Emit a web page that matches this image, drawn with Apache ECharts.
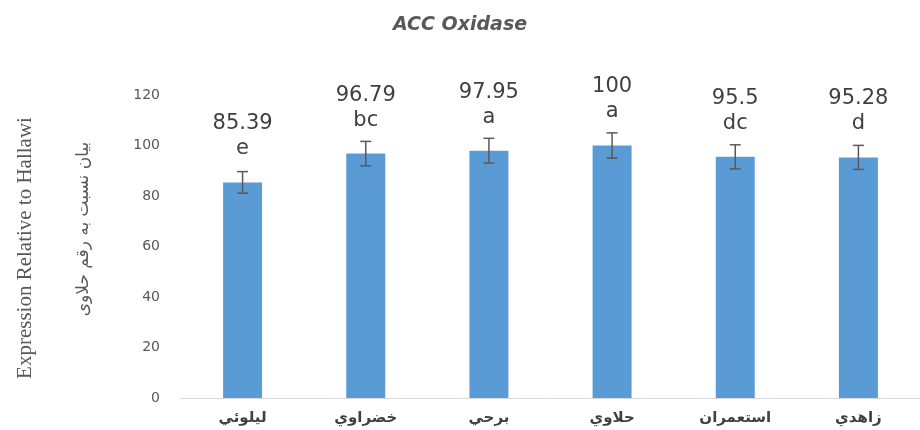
<!DOCTYPE html>
<html>
<head>
<meta charset="utf-8">
<script src="https://cdn.jsdelivr.net/npm/echarts@6/dist/echarts.min.js"></script>
<style>
  html, body { margin: 0; padding: 0; background: #fff; }
  #chart { width: 920px; height: 430px; }
</style>
</head>
<body>
<div id="chart"></div>
<script>
const cultivars = ['ليلوئي', 'خضراوي', 'برحي', 'حلاوي', 'استعمران', 'زاهدي'];
const expression = [85.39, 96.79, 97.95, 100, 95.5, 95.28];
const errors = [4.27, 4.84, 4.9, 5.0, 4.78, 4.76];
const letters = ['e', 'bc', 'a', 'a', 'dc', 'd'];
const yTicks = [0, 20, 40, 60, 80, 100, 120];

const chart = echarts.init(document.getElementById('chart'));

const errorData = expression.map((v, i) => [i, v - errors[i], v + errors[i]]);

const option = {
  animation: false,
  title: {
    text: 'ACC Oxidase',
    left: 'center',
    top: 11,
    textStyle: {
      fontFamily: 'DejaVu Sans',
      fontStyle: 'italic',
      fontWeight: 'bold',
      fontSize: 19,
      color: '#595959'
    }
  },
  graphic: [
    {
      type: 'text',
      x: 25,
      y: 248,
      rotation: Math.PI / 2,
      style: {
        text: 'Expression Relative to Hallawi',
        fontFamily: 'Liberation Serif',
        fontSize: 21,
        fill: '#595959',
        align: 'center',
        verticalAlign: 'middle'
      }
    },
    {
      type: 'text',
      x: 84,
      y: 229,
      rotation: Math.PI / 2,
      style: {
        text: 'بیان نسبت به رقم حلاوی',
        fontFamily: 'DejaVu Sans',
        fontSize: 17,
        fill: '#595959',
        align: 'center',
        verticalAlign: 'middle'
      }
    }
  ],
  grid: {
    left: 181,
    width: 752,
    top: 95,
    bottom: 32
  },
  xAxis: {
    type: 'category',
    data: cultivars,
    axisLine: { lineStyle: { color: '#d9d9d9', width: 1 } },
    axisTick: { show: false },
    axisLabel: {
      margin: 13,
      fontFamily: 'DejaVu Sans',
      fontWeight: 'bold',
      fontSize: 15,
      color: '#404040'
    }
  },
  yAxis: {
    type: 'value',
    min: yTicks[0],
    max: yTicks[yTicks.length - 1],
    interval: 20,
    splitLine: { show: false },
    axisLine: { show: false },
    axisTick: { show: false },
    axisLabel: {
      margin: 21,
      fontFamily: 'DejaVu Sans',
      fontSize: 14,
      color: '#595959'
    }
  },
  series: [
    {
      type: 'bar',
      data: expression,
      barWidth: 39,
      itemStyle: { color: '#5b9bd5' },
      label: {
        show: true,
        position: 'top',
        distance: 21,
        formatter: (p) => '{v|' + p.value + '}\n{l|' + letters[p.dataIndex] + '}',
        rich: {
          v: { fontFamily: 'DejaVu Sans', fontSize: 21, color: '#404040', lineHeight: 25, align: 'center' },
          l: { fontFamily: 'DejaVu Sans', fontSize: 21, color: '#404040', lineHeight: 25, align: 'center' }
        }
      }
    },
    {
      type: 'custom',
      data: errorData,
      z: 10,
      renderItem: (params, api) => {
        const x = api.value(0);
        const low = api.coord([x, api.value(1)]);
        const high = api.coord([x, api.value(2)]);
        const cap = 5.5;
        const style = { stroke: '#595959', lineWidth: 1.5 };
        return {
          type: 'group',
          children: [
            { type: 'line', shape: { x1: high[0], y1: high[1], x2: low[0], y2: low[1] }, style },
            { type: 'line', shape: { x1: high[0] - cap, y1: high[1], x2: high[0] + cap, y2: high[1] }, style },
            { type: 'line', shape: { x1: low[0] - cap, y1: low[1], x2: low[0] + cap, y2: low[1] }, style }
          ]
        };
      }
    }
  ]
};

chart.setOption(option);
</script>
</body>
</html>
